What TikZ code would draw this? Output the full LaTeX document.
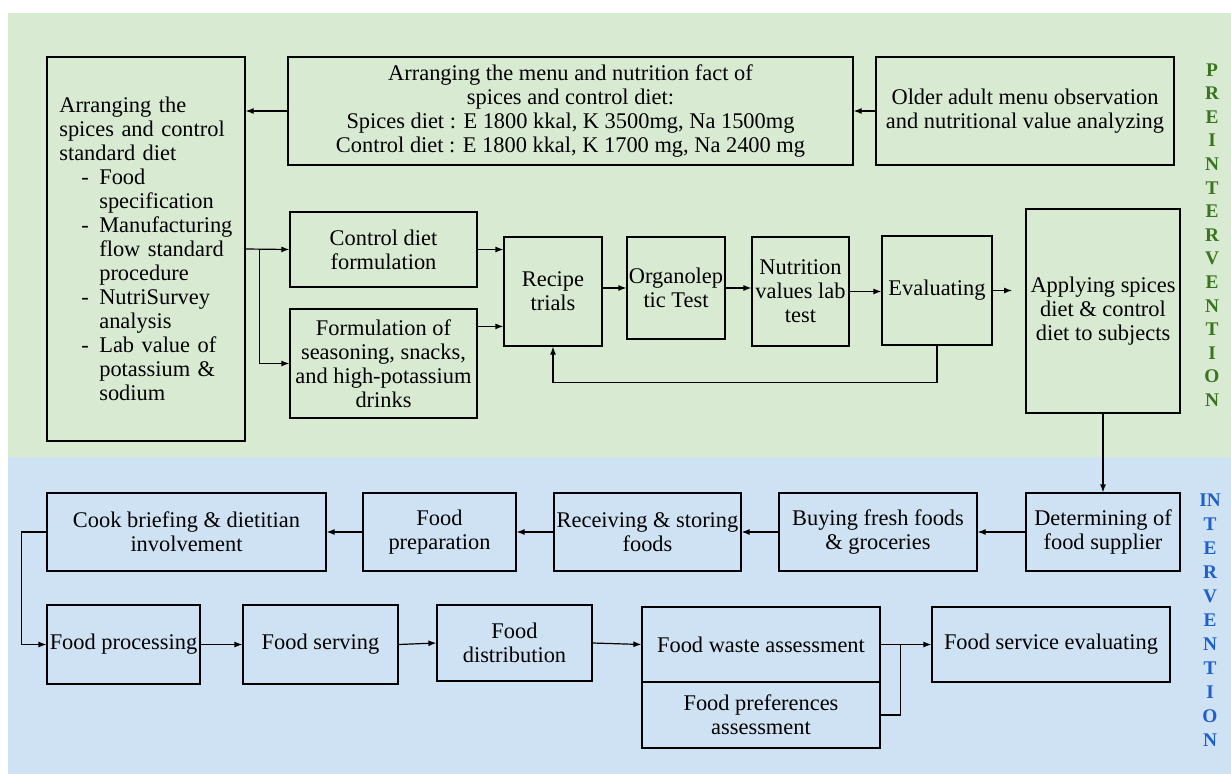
\documentclass[tikz,border=0pt]{standalone}
\usepackage{fontspec}
\setmainfont{Liberation Serif}
\usetikzlibrary{arrows.meta,calc}
\definecolor{bggreen}{HTML}{D9EAD3}
\definecolor{bgblue}{HTML}{CFE2F3}
\definecolor{txtgreen}{HTML}{38761D}
\definecolor{txtblue}{HTML}{1C5FCF}
\newcommand\bx[6][]{\node[box,minimum width={0.75pt*(#4-#2)},minimum height={0.75pt*(#5-#3)},#1] (#6) at ({(#2+#4)/2},{(#3+#5)/2})}
\newcommand\dashitem[1]{\makebox[30pt][l]{\hspace*{16.5pt}-}#1}
\newcommand\contitem[1]{\hspace*{30pt}#1}
\begin{document}
\begin{tikzpicture}[x=0.75pt,y=-0.75pt,
 box/.style={draw=black,line width=0.9pt,inner sep=0pt,align=center,font=\fontsize{16.8}{18}\selectfont},
 arr/.style={line width=0.9pt,-{Latex[length=6pt,width=4.5pt]}},
 ln/.style={line width=0.9pt},
 sidelbl/.style={inner sep=0pt,align=center}]
\useasboundingbox (0,0) rectangle (1231,774);
\fill[bggreen] (8,13) rectangle (1231,457);
\fill[bgblue] (8,457) rectangle (1231,774);

% top section
\bx[align=left,inner xsep=9pt,text width=130pt]{47}{57}{245}{441}{leftb}{Arranging the\\spices and control\\standard diet\\
\dashitem{Food}\\\contitem{specification}\\
\dashitem{Manufacturing}\\\contitem{flow standard}\\\contitem{procedure}\\
\dashitem{NutriSurvey}\\\contitem{analysis}\\
\dashitem{Lab value of}\\\contitem{potassium \&}\\\contitem{sodium}};
\bx{288}{57}{853}{165}{menu}{Arranging the menu and nutrition fact of\\spices and control diet:\\Spices diet : E 1800 kkal, K 3500mg, Na 1500mg\\Control diet : E 1800 kkal, K 1700 mg, Na 2400 mg};
\bx{876}{57}{1174}{165}{older}{Older adult menu observation\\and nutritional value analyzing};
\bx{290}{212}{477}{287}{ctrl}{Control diet\\formulation};
\bx{290}{309}{477}{418}{form}{Formulation of\\seasoning, snacks,\\and high-potassium\\drinks};
\bx{504}{237}{602}{346}{recipe}{Recipe\\trials};
\bx{627}{237}{725}{339}{organ}{Organolep\\tic Test};
\bx{752}{237}{849}{346}{nutri}{Nutrition\\values lab\\test};
\bx{882}{236}{992}{345}{eval}{Evaluating};
\bx{1026}{209}{1180}{413}{apply}{Applying spices\\diet \& control\\diet to subjects};

% bottom section
\bx{1026}{493}{1180}{571}{deter}{Determining of\\food supplier};
\bx{779}{493}{977}{571}{buy}{Buying fresh foods\\\& groceries};
\bx{554}{493}{741}{571}{recv}{Receiving \& storing\\foods};
\bx{363}{493}{516}{571}{prep}{Food\\preparation};
\bx{47}{493}{326}{571}{cook}{Cook briefing \& dietitian\\involvement};
\bx{47}{605}{200}{684}{proc}{Food processing};
\bx{243}{605}{398}{684}{serve}{Food serving};
\bx{437}{605}{592}{681}{dist}{Food\\distribution};
\bx{642}{607}{880}{682}{waste}{Food waste assessment};
\bx{642}{682}{880}{748}{pref}{Food preferences\\assessment};
\bx{932}{607}{1170}{682}{fse}{Food service evaluating};

% connectors top
\draw[arr] (older.west) -- (menu.east);
\draw[arr] (menu.west) -- (menu.west -| leftb.east);
\draw[arr] (leftb.east) -- (ctrl.west);
\coordinate (br) at ($(leftb.east)+(14,0)$);
\draw[arr] (br) |- (form.west);
\draw[arr] (ctrl.east) -- (ctrl.east -| recipe.west);
\coordinate (fo) at ($(form.north east)+(0,18)$);
\draw[arr] (fo) -- (fo -| recipe.west);
\draw[arr] (recipe.east |- organ.west) -- (organ.west);
\draw[arr] (organ.east) -- (organ.east -| nutri.west);
\draw[arr] (nutri.east) -- (nutri.east -| eval.west);
\draw[arr,shorten >=10pt] (eval.east) -- (eval.east -| apply.west);
\draw[arr] (eval.south) -- ++(0,37) -| (recipe.south);
\draw[arr] (apply.south) -- (deter.north);

% connectors bottom
\draw[arr] (deter.west) -- (buy.east);
\draw[arr] (buy.west) -- (recv.east);
\draw[arr] (recv.west) -- (prep.east);
\draw[arr] (prep.west) -- (cook.east);
\draw[arr] (cook.west) -- ++(-25,0) |- (proc.west);
\draw[arr] (proc.east) -- (serve.west);
\draw[arr] (serve.east) -- (dist.west);
\draw[arr] (dist.east) -- (waste.west);
\draw[arr] (waste.east) -- (fse.west);
\coordinate (jn) at ($(waste.east)+(20,0)$);
\draw[ln] (pref.east) -- ++(20,0) -- (jn);

% side labels
\node[sidelbl,text=txtgreen,font=\bfseries\fontsize{14.5}{17.7}\selectfont] (pre) at (1212,235)
 {P\\R\\E\\I\\N\\T\\E\\R\\V\\E\\N\\T\\I\\O\\N};
\node[sidelbl,text=txtblue,font=\bfseries\fontsize{14.5}{18}\selectfont] (intv) at (1210,620)
 {IN\\T\\E\\R\\V\\E\\N\\T\\I\\O\\N};
\end{tikzpicture}
\end{document}
